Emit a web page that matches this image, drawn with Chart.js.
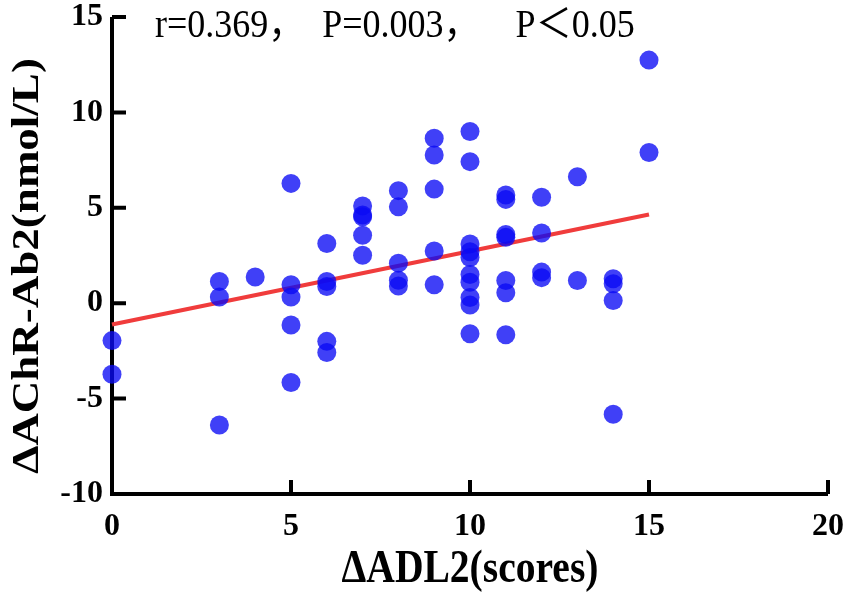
<!DOCTYPE html>
<html lang="en">
<head>
    <meta charset="UTF-8">
    <title>ΔADL2 vs ΔAChR-Ab2</title>
    <script src="https://cdn.jsdelivr.net/npm/chart.js@4.4.1/dist/chart.umd.min.js"></script>
    <style>
        body { margin: 0; background: #fff; }
        #wrap { width: 851px; height: 601px; }
    </style>
</head>
<body>
    <div id="wrap"><canvas id="scatter" width="851" height="601"></canvas></div>

    <script>
        // ΔADL2 score (x) and ΔAChR-Ab2 value (y) for each patient
        const adlScores = [
            0, 0,
            3, 3, 3,
            4,
            5, 5, 5, 5, 5,
            6, 6, 6, 6, 6,
            7, 7, 7, 7, 7,
            8, 8, 8, 8, 8,
            9, 9, 9, 9, 9,
            10, 10, 10, 10, 10, 10, 10, 10, 10, 10,
            11, 11, 11, 11, 11, 11, 11,
            12, 12, 12, 12,
            13, 13,
            14, 14, 14, 14,
            15, 15
        ];
        const achrValues = [
            -1.96, -3.72,
            1.14, 0.32, -6.38,
            1.37,
            6.28, 0.97, 0.32, -1.14, -4.16,
            3.13, 1.14, 0.88, -2.0, -2.58,
            5.09, 4.62, 4.53, 3.56, 2.51,
            5.9, 5.05, 2.1, 1.2, 0.9,
            8.65, 7.77, 5.98, 2.74, 0.97,
            9.0, 7.42, 3.1, 2.7, 2.4, 1.5, 1.1, 0.3, -0.1, -1.6,
            5.67, 5.44, 3.6, 3.45, 1.19, 0.55, -1.65,
            5.55, 3.68, 1.63, 1.34,
            6.63, 1.19,
            1.28, 1.02, 0.14, -5.82,
            12.74, 7.9
        ];

        // fitted regression line end points
        const fitX = [0, 15];
        const fitY = [-1.12, 4.65];

        const xTicks = [0, 5, 10, 15, 20];
        const yTicks = [-10, -5, 0, 5, 10, 15];

        const statsText = 'r=0.369，  P=0.003，    P＜0.05';
        const xTitle = 'ΔADL2(scores)';
        const yTitle = 'ΔAChR-Ab2(nmol/L)';

        const SERIF = "'Liberation Serif', 'Times New Roman', serif";
        const NOTE_FONT = "'Liberation Serif', 'Noto Sans CJK SC', serif";

        // axis lines, inward tick marks, titles and the statistics note
        const axisDecor = {
            id: 'axisDecor',
            beforeDatasetsDraw(chart) {
                const { ctx, chartArea: a, scales: { x, y } } = chart;
                ctx.save();
                ctx.strokeStyle = '#000';
                ctx.lineWidth = 4;
                ctx.lineJoin = 'miter';
                ctx.beginPath();
                ctx.moveTo(a.left, a.top);
                ctx.lineTo(a.left, a.bottom);
                ctx.lineTo(a.right, a.bottom);
                y.ticks.forEach(t => {
                    const py = y.getPixelForValue(t.value);
                    ctx.moveTo(a.left, py);
                    ctx.lineTo(a.left + 14, py);
                });
                x.ticks.forEach(t => {
                    const px = x.getPixelForValue(t.value);
                    ctx.moveTo(px, a.bottom);
                    ctx.lineTo(px, a.bottom - 14);
                });
                ctx.stroke();
                ctx.restore();
            },
            afterDraw(chart) {
                const { ctx, chartArea: a } = chart;
                ctx.save();
                ctx.fillStyle = '#000';

                // note at top of plot
                ctx.save();
                ctx.translate(155, 37);
                ctx.scale(0.9, 1);
                ctx.font = '40px ' + NOTE_FONT;
                ctx.textAlign = 'left';
                ctx.textBaseline = 'alphabetic';
                ctx.fillText(statsText, 0, 0);
                ctx.restore();

                // x title
                ctx.save();
                ctx.translate((a.left + a.right) / 2, 570);
                ctx.scale(0.86, 1);
                ctx.font = 'bold 46px ' + SERIF;
                ctx.textAlign = 'center';
                ctx.textBaseline = 'middle';
                ctx.fillText(xTitle, 0, 0);
                ctx.restore();

                // y title
                ctx.save();
                ctx.translate(28, 266);
                ctx.scale(0.83, 1);
                ctx.rotate(-Math.PI / 2);
                ctx.font = 'bold 45px ' + SERIF;
                ctx.textAlign = 'center';
                ctx.textBaseline = 'middle';
                ctx.fillText(yTitle, 0, 0);
                ctx.restore();

                ctx.restore();
            }
        };

        const points = adlScores.map((v, i) => ({ x: v, y: achrValues[i] }));
        const fitLine = fitX.map((v, i) => ({ x: v, y: fitY[i] }));

        new Chart(document.getElementById('scatter'), {
            type: 'scatter',
            data: {
                datasets: [
                    {
                        label: 'Patients',
                        data: points,
                        backgroundColor: 'rgba(10, 10, 245, 0.78)',
                        borderWidth: 0,
                        pointRadius: 9.5,
                        clip: false,
                        order: 1
                    },
                    {
                        label: 'Fit',
                        data: fitLine,
                        showLine: true,
                        borderColor: 'rgb(240, 60, 60)',
                        borderWidth: 4,
                        pointRadius: 0,
                        clip: false,
                        order: 2
                    }
                ]
            },
            options: {
                responsive: false,
                animation: false,
                layout: { padding: { top: 17, right: 23, left: 0, bottom: 0 } },
                plugins: {
                    legend: { display: false },
                    tooltip: { enabled: false }
                },
                scales: {
                    x: {
                        type: 'linear',
                        min: 0,
                        max: 20,
                        afterBuildTicks: s => { s.ticks = xTicks.map(v => ({ value: v })); },
                        afterFit: s => { s.height = 107; s.paddingLeft = 0; s.paddingRight = 0; },
                        grid: { display: false, drawTicks: false },
                        border: { display: false },
                        ticks: {
                            padding: 14,
                            color: '#000',
                            font: { family: SERIF, size: 32, weight: 'bold' }
                        }
                    },
                    y: {
                        type: 'linear',
                        min: -10,
                        max: 15,
                        afterBuildTicks: s => { s.ticks = yTicks.map(v => ({ value: v })); },
                        afterFit: s => { s.width = 112; s.paddingTop = 0; s.paddingBottom = 0; },
                        grid: { display: false, drawTicks: false },
                        border: { display: false },
                        ticks: {
                            padding: 9,
                            color: '#000',
                            font: { family: SERIF, size: 32, weight: 'bold' }
                        }
                    }
                }
            },
            plugins: [axisDecor]
        });
    </script>
</body>
</html>
